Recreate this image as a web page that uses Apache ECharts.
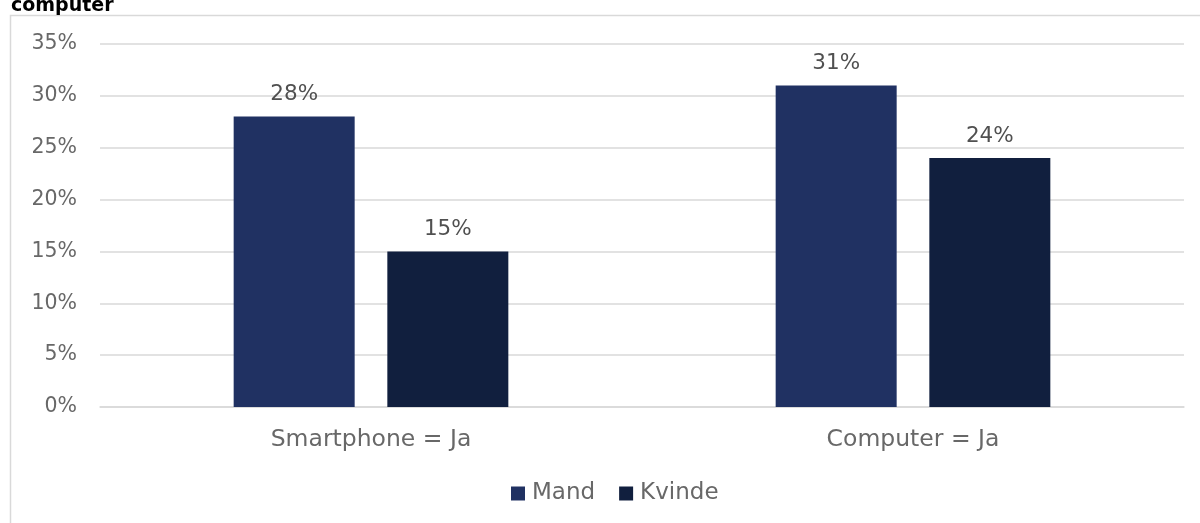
<!DOCTYPE html>
<html><head><meta charset="utf-8">
<script src="https://cdn.jsdelivr.net/npm/echarts@6/dist/echarts.min.js"></script>
<style>html,body{margin:0;padding:0;background:#fff}#c{width:1200px;height:523px}</style>
</head><body><div id="c"></div>
<script>
const titleText = 'computer';
const categories = ['Smartphone = Ja', 'Computer = Ja'];
const seriesNames = ['Mand', 'Kvinde'];
const mand = [28, 31];
const kvinde = [15, 24];
const yTicks = [0, 5, 10, 15, 20, 25, 30, 35];

const font = '"DejaVu Sans", sans-serif';
const txt = '#686868';
const chart = echarts.init(document.getElementById('c'));
chart.setOption({
  animation: false,
  title: { text: titleText, left: 6, top: -8, textStyle: { fontFamily: font, fontWeight: 'bold', fontSize: 19, color: '#000' } },
  graphic: [{ type: 'polyline', shape: { points: [[10.5, 530], [10.5, 15.5], [1205, 15.5]] }, style: { stroke: '#d9d9d9', lineWidth: 1.5, fill: null }, silent: true }],
  grid: { left: 100, right: 16, top: 44, bottom: 116, containLabel: false },
  legend: {
    data: seriesNames, bottom: 13, left: 506, itemWidth: 14, itemHeight: 14, itemGap: 24,
    icon: 'rect', textStyle: { fontFamily: font, fontSize: 23, color: txt, padding: [0, 0, 0, 2] }
  },
  xAxis: {
    type: 'category', data: categories,
    axisLine: { lineStyle: { color: '#d9d9d9', width: 1.5 } }, axisTick: { show: false },
    axisLabel: { fontFamily: font, fontSize: 23.5, color: txt, margin: 21 }
  },
  yAxis: {
    type: 'value', min: 0, max: yTicks[yTicks.length - 1], interval: 5,
    axisLine: { show: false }, axisTick: { show: false },
    splitLine: { lineStyle: { color: '#d9d9d9', width: 1.5 } },
    axisLabel: { fontFamily: font, fontSize: 20.5, color: txt, margin: 23, formatter: v => v + '%' }
  },
  series: [
    { name: seriesNames[0], type: 'bar', data: mand, barWidth: 121, barGap: '27%', itemStyle: { color: '#203162' },
      label: { show: true, position: 'top', distance: 11, fontFamily: font, fontSize: 21.5, color: '#505050', formatter: p => p.value + '%' } },
    { name: seriesNames[1], type: 'bar', data: kvinde, barWidth: 121, barGap: '27%', itemStyle: { color: '#111f3e' },
      label: { show: true, position: 'top', distance: 11, fontFamily: font, fontSize: 21.5, color: '#505050', formatter: p => p.value + '%' } }
  ]
});
</script></body></html>
